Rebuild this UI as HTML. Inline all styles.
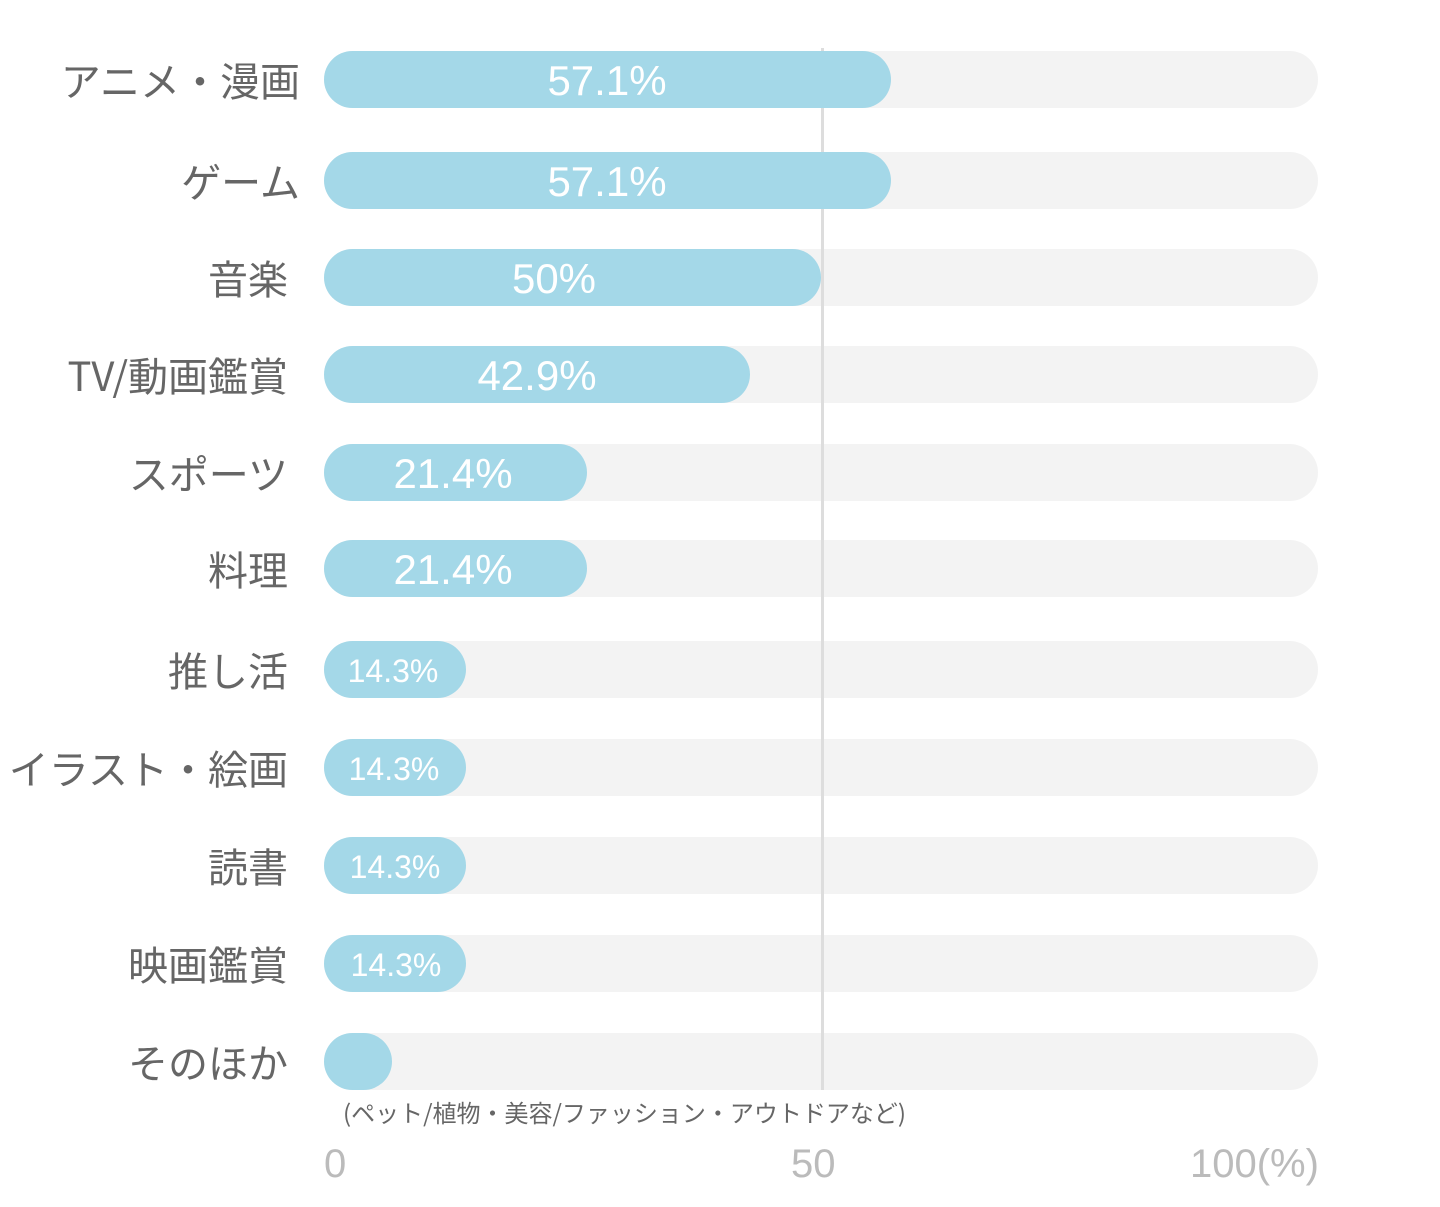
<!DOCTYPE html>
<html><head><meta charset="utf-8"><style>
body{margin:0;width:1440px;height:1207px;background:#fff;position:relative;overflow:hidden;font-family:"Liberation Sans","Noto Sans CJK JP",sans-serif}
.bg{position:absolute;left:324px;width:994px;height:57px;background:#f3f3f3;border-radius:29px}
.bar{position:absolute;left:324px;height:57px;background:#a4d8e8;border-radius:29px}
.v{position:absolute;color:#fff;height:57px;line-height:60px;transform:translateX(-50%);white-space:nowrap}
.lab{position:absolute;color:#666;font-family:"Noto Sans CJK JP","Liberation Sans",sans-serif;font-size:40px;height:57px;line-height:57px;text-align:right;white-space:nowrap}
.ax{position:absolute;color:#bbb;font-size:40px;top:1142px}
</style></head><body>
<div style="position:absolute;left:821px;top:48px;width:3px;height:1042px;background:#ddd;z-index:1"></div>
<div id="c"></div>
<script>
var rows=[["アニメ・漫画",51,567,"57.1%",607,42,300],["ゲーム",152,567,"57.1%",607,42,300],["音楽",249,497,"50%",554,42,288],["TV/動画鑑賞",346,426,"42.9%",537,42,288],["スポーツ",444,263,"21.4%",453,42,288],["料理",540,263,"21.4%",453,42,288],["推し活",641,142,"14.3%",393,32,288],["イラスト・絵画",739,142,"14.3%",394,32,288],["読書",837,142,"14.3%",395,32,288],["映画鑑賞",935,142,"14.3%",396,32,288],["そのほか",1033,68,"",0,32,288]];
var h="";
rows.forEach(function(r){
h+='<div class="bg" style="top:'+r[1]+'px"></div>';
h+='<div class="bar" style="top:'+r[1]+'px;width:'+r[2]+'px;z-index:2"></div>';
if(r[3])h+='<div class="v" style="top:'+r[1]+'px;left:'+r[4]+'px;font-size:'+r[5]+'px;z-index:3">'+r[3]+'</div>';
h+='<div class="lab" style="top:'+r[1]+'px;right:'+(1440-r[6])+'px">'+r[0]+'</div>';
});
document.getElementById("c").innerHTML=h;
</script>
<div style="position:absolute;left:343px;top:1094px;font-size:24px;color:#666;font-family:'Noto Sans CJK JP',sans-serif">(ペット/植物・美容/ファッション・アウトドアなど)</div>
<div class="ax" style="left:324px">0</div>
<div class="ax" style="left:791px">50</div>
<div class="ax" style="left:1190px">100(%)</div>
</body></html>
